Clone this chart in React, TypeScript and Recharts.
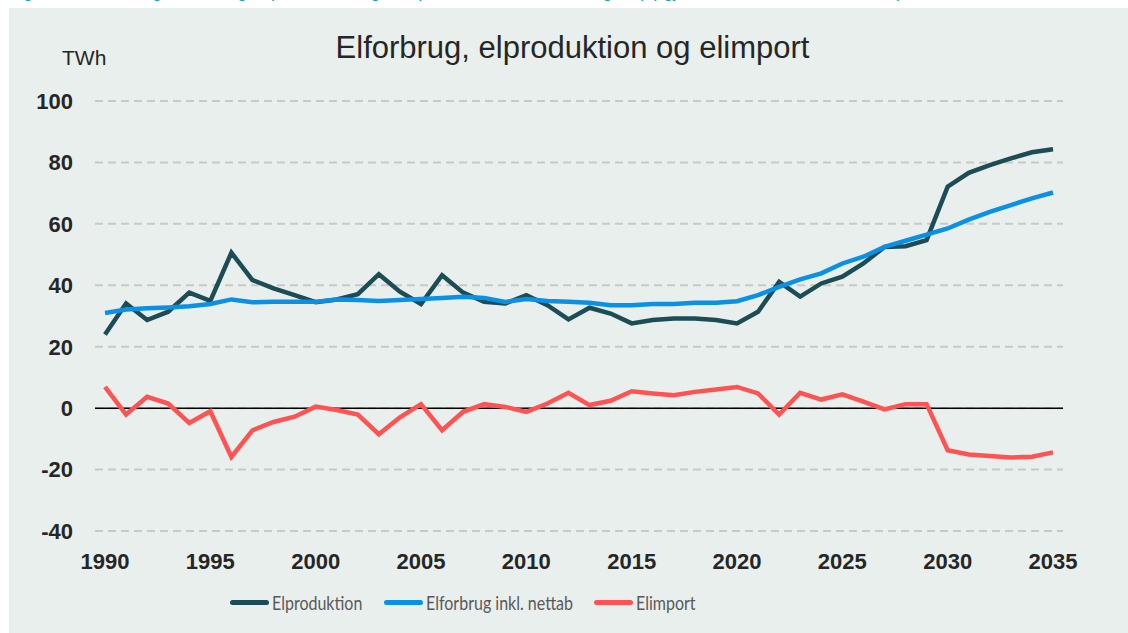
import { LineChart, Line, XAxis, YAxis, CartesianGrid, ReferenceLine } from 'recharts'

const years = [
  1990, 1991, 1992, 1993, 1994, 1995, 1996, 1997, 1998, 1999,
  2000, 2001, 2002, 2003, 2004, 2005, 2006, 2007, 2008, 2009,
  2010, 2011, 2012, 2013, 2014, 2015, 2016, 2017, 2018, 2019,
  2020, 2021, 2022, 2023, 2024, 2025, 2026, 2027, 2028, 2029,
  2030, 2031, 2032, 2033, 2034, 2035,
]

const elproduktion = [
  24.0, 34.1, 28.7, 31.4, 37.6, 34.9, 50.6, 41.7, 39.0, 36.8,
  34.5, 35.4, 37.1, 43.6, 37.9, 33.9, 43.3, 37.6, 34.6, 34.1,
  36.8, 33.5, 28.9, 32.7, 30.8, 27.6, 28.7, 29.2, 29.2, 28.7,
  27.6, 31.4, 41.1, 36.3, 40.6, 42.8, 47.1, 52.5, 52.7, 54.7,
  72.1, 76.6, 79.1, 81.3, 83.3, 84.3,
]

const elforbrug = [
  31.0, 32.1, 32.5, 32.8, 33.2, 33.9, 35.4, 34.5, 34.6, 34.6,
  34.6, 35.4, 35.2, 34.9, 35.2, 35.5, 35.9, 36.3, 35.9, 34.6,
  35.5, 34.9, 34.6, 34.3, 33.5, 33.5, 33.9, 33.9, 34.3, 34.3,
  34.8, 36.8, 39.5, 41.9, 43.9, 47.1, 49.3, 52.5, 54.5, 56.5,
  58.5, 61.4, 63.9, 66.1, 68.3, 70.2,
]

const elimport = [
  6.9, -2.1, 3.7, 1.5, -4.8, -1.0, -15.9, -7.2, -4.5, -2.8,
  0.5, -0.6, -2.1, -8.5, -3.0, 1.3, -7.2, -1.2, 1.3, 0.4,
  -1.2, 1.5, 5.0, 1.0, 2.4, 5.5, 4.8, 4.2, 5.3, 6.1,
  6.9, 4.8, -2.1, 5.0, 2.8, 4.5, 2.1, -0.4, 1.3, 1.3,
  -13.7, -15.1, -15.6, -16.1, -15.8, -14.4,
]

const xTicks = [1990, 1995, 2000, 2005, 2010, 2015, 2020, 2025, 2030, 2035]
const yTicks = [-40, -20, 0, 20, 40, 60, 80, 100]

// legendLeft = where each legend entry starts inside the grey panel
const series = [
  { key: 'elproduktion', name: 'Elproduktion', color: '#1c4c55', legendLeft: 221 },
  { key: 'elforbrug', name: 'Elforbrug inkl. nettab', color: '#0a91e6', legendLeft: 375 },
  { key: 'elimport', name: 'Elimport', color: '#ff5252', legendLeft: 585 },
]

const rows = years.map((year, i) => ({
  year,
  elproduktion: elproduktion[i],
  elforbrug: elforbrug[i],
  elimport: elimport[i],
}))

const arial = "'Liberation Sans', Arial, sans-serif"
const tickStyle = { fontFamily: arial, fontSize: 22, fontWeight: 700, fill: '#262626' }

export default function App() {
  return (
    <div style={{ position: 'absolute', left: 0, top: 0, width: 1128, height: 633, background: '#fff', overflow: 'hidden' }}>
      {/* figure caption, cut off by the crop */}
      <div style={{ position: 'absolute', left: 8, top: -19, whiteSpace: 'nowrap', color: '#17a2b8', fontFamily: arial, fontSize: 18 }}>
        Figur 3.1: Udvikling i elforbrug, elproduktion og elimport i basisfremskrivningen (opgjort for normalår, inkl. nettab)
      </div>
      <div style={{ position: 'absolute', left: 9, top: 8, width: 1119, height: 625, background: '#e9efed' }}>
        <div style={{ position: 'absolute', left: 0, width: 1127, top: 22, textAlign: 'center', fontFamily: arial, fontSize: 31, color: '#262626' }}>
          Elforbrug, elproduktion og elimport
        </div>
        <div style={{ position: 'absolute', left: 53, top: 38, fontFamily: arial, fontSize: 21, color: '#262626' }}>
          TWh
        </div>
        <LineChart width={1119} height={625} data={rows} margin={{ top: 93, right: 65, bottom: 62, left: 0 }}>
          <CartesianGrid vertical={false} stroke="#c9c9c9" strokeWidth={2} strokeDasharray="8 5" />
          <XAxis
            dataKey="year"
            type="number"
            domain={[1990, 2035]}
            ticks={xTicks}
            interval={0}
            padding={{ left: 10, right: 10 }}
            axisLine={false}
            tickLine={false}
            tickSize={6}
            tickMargin={16}
            height={40}
            tick={tickStyle}
          />
          <YAxis
            domain={[-40, 100]}
            ticks={yTicks}
            interval={0}
            width={86}
            axisLine={false}
            tickLine={false}
            tickSize={6}
            tickMargin={16}
            tick={tickStyle}
          />
          <ReferenceLine y={0} stroke="#000" strokeWidth={1.5} />
          {series.map(s => (
            <Line
              key={s.key}
              type="linear"
              dataKey={s.key}
              name={s.name}
              stroke={s.color}
              strokeWidth={4.5}
              dot={false}
              isAnimationActive={false}
            />
          ))}
        </LineChart>
        {series.map(s => (
          <div key={s.key} style={{ position: 'absolute', left: s.legendLeft, top: 580, height: 28, display: 'flex', alignItems: 'center' }}>
            <div style={{ width: 39, height: 5, borderRadius: 3, background: s.color, marginRight: 3 }} />
            <span style={{ display: 'inline-block', whiteSpace: 'nowrap', transform: 'scaleX(0.8)', transformOrigin: 'left center', fontFamily: "Lato, 'Noto Sans', sans-serif", fontSize: 20, color: '#595959' }}>
              {s.name}
            </span>
          </div>
        ))}
      </div>
    </div>
  )
}
